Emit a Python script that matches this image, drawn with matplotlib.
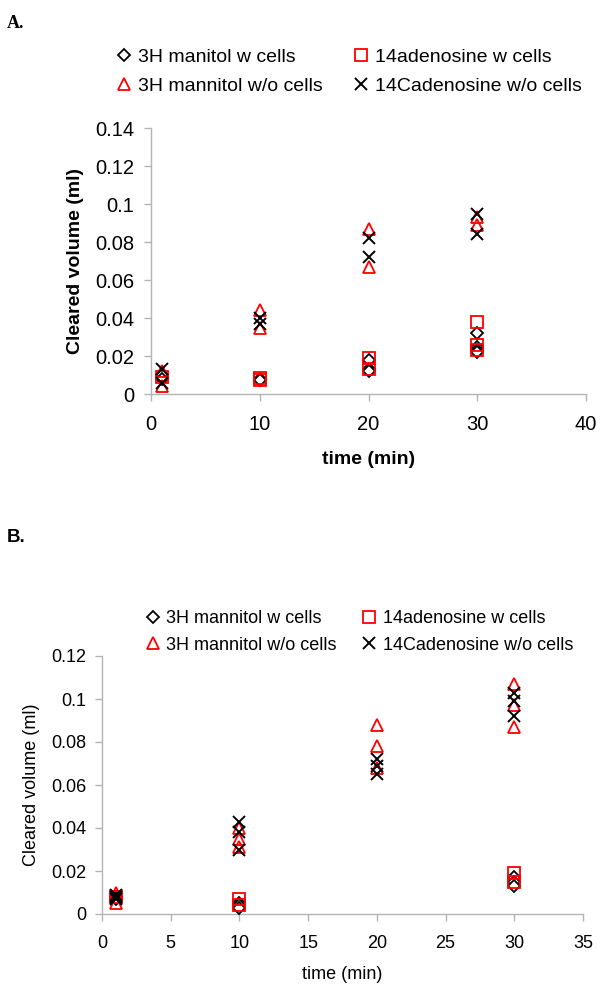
import matplotlib
matplotlib.use('Agg')
import matplotlib.pyplot as plt

plt.rcParams['font.family'] = ['Liberation Sans', 'DejaVu Sans']

labels = ['3H manitol w cells', '14adenosine w cells', '3H mannitol w/o cells', '14Cadenosine w/o cells']
labels_b = ['3H mannitol w cells', '14adenosine w cells', '3H mannitol w/o cells', '14Cadenosine w/o cells']

# panel A values (time, cleared volume)
a_man_w_t = [1, 1, 10, 10, 20, 20, 20, 30, 30, 30, 30]
a_man_w_v = [0.010, 0.008, 0.008, 0.0075, 0.018, 0.013, 0.012, 0.032, 0.025, 0.023, 0.022]
a_ade_w_t = [1, 10, 10, 20, 20, 30, 30, 30]
a_ade_w_v = [0.009, 0.0085, 0.0075, 0.019, 0.013, 0.038, 0.026, 0.023]
a_man_wo_t = [1, 1, 10, 10, 20, 20, 30, 30]
a_man_wo_v = [0.012, 0.004, 0.044, 0.035, 0.087, 0.067, 0.093, 0.089]
a_ade_wo_t = [1, 1, 10, 10, 20, 20, 30, 30]
a_ade_wo_v = [0.013, 0.006, 0.040, 0.037, 0.082, 0.072, 0.095, 0.084]

# panel B values
b_man_w_t = [1, 1, 10, 10, 10, 30, 30, 30]
b_man_w_v = [0.008, 0.007, 0.005, 0.004, 0.003, 0.017, 0.015, 0.013]
b_ade_w_t = [1, 10, 10, 30, 30]
b_ade_w_v = [0.008, 0.007, 0.004, 0.019, 0.015]
b_man_wo_t = [1, 1, 10, 10, 10, 20, 20, 20, 30, 30, 30]
b_man_wo_v = [0.010, 0.005, 0.040, 0.035, 0.031, 0.088, 0.078, 0.068, 0.107, 0.097, 0.087]
b_ade_wo_t = [1, 1, 1, 10, 10, 10, 20, 20, 20, 30, 30, 30]
b_ade_wo_v = [0.009, 0.008, 0.007, 0.043, 0.038, 0.030, 0.072, 0.069, 0.065, 0.103, 0.099, 0.092]

grey = '#b4b4b4'
red = '#ff0000'

fig = plt.figure(figsize=(6, 9.91), dpi=100)


def style_axes(ax, xmax, xstep, ymax, ystep, xlabel, ylabel, weight, fs, lfs, ypad, xlp):
    ax.set_xlim(0, xmax)
    ax.set_ylim(0, ymax)
    ax.set_xticks([i * xstep for i in range(int(round(xmax / xstep)) + 1)])
    n = int(round(ymax / ystep))
    yt = [round(i * ystep, 2) for i in range(n + 1)]
    ax.set_yticks(yt)
    ax.set_yticklabels(['0' if v == 0 else ('%g' % v) for v in yt])
    for s in ['top', 'right']:
        ax.spines[s].set_visible(False)
    for s in ['left', 'bottom']:
        ax.spines[s].set_color(grey)
        ax.spines[s].set_linewidth(1)
    ax.tick_params(direction='out', length=5, width=1, color=grey, labelsize=fs)
    ax.tick_params(axis='x', pad=10)
    ax.tick_params(axis='y', pad=ypad)
    ax.set_xlabel(xlabel, fontsize=lfs, fontweight=weight, labelpad=xlp)
    ax.set_ylabel(ylabel, fontsize=lfs, fontweight=weight, labelpad=8)
    for sp in ax.spines.values():
        sp.set_zorder(0)


def draw(ax, data, names, legend_anchor, lfs, colsp, lsp):
    (t1, v1), (t2, v2), (t3, v3), (t4, v4) = data
    h1, = ax.plot(t1, v1, linestyle='none', marker='D', markersize=6, mfc='white',
                  mec='black', mew=1.3, clip_on=False, zorder=3)
    h2, = ax.plot(t2, v2, linestyle='none', marker='s', markersize=8, mfc='none',
                  mec=red, mew=1.3, clip_on=False, zorder=4)
    h3, = ax.plot(t3, v3, linestyle='none', marker='^', markersize=9, mfc='none',
                  mec=red, mew=1.3, clip_on=False, zorder=5)
    h4, = ax.plot(t4, v4, linestyle='none', marker='x', markersize=9, color='black',
                  mew=1.4, clip_on=False, zorder=6)
    fig.legend([h1, h3, h2, h4], [names[0], names[2], names[1], names[3]], ncol=2,
               loc='upper left', bbox_to_anchor=legend_anchor, frameon=False,
               fontsize=lfs, handlelength=0.8, handletextpad=0.33, columnspacing=colsp,
               labelspacing=lsp, borderaxespad=0, borderpad=0)


axA = fig.add_axes([151 / 600, 1 - 394 / 991, 435 / 600, 266 / 991])
draw(axA, [(a_man_w_t, a_man_w_v), (a_ade_w_t, a_ade_w_v),
           (a_man_wo_t, a_man_wo_v), (a_ade_wo_t, a_ade_wo_v)], labels,
     (116 / 600, 1 - 48.5 / 991), 14, 1.57, 0.58)
style_axes(axA, 40, 10, 0.14, 0.02, 'time (min)', 'Cleared volume (ml)', 'bold', 14.5, 14, 7, 12)

axB = fig.add_axes([102 / 600, 1 - 914 / 991, 481 / 600, 258 / 991])
draw(axB, [(b_man_w_t, b_man_w_v), (b_ade_w_t, b_ade_w_v),
           (b_man_wo_t, b_man_wo_v), (b_ade_wo_t, b_ade_wo_v)], labels_b,
     (146 / 600, 1 - 610 / 991), 13, 1.4, 0.53)
style_axes(axB, 35, 5, 0.12, 0.02, 'time (min)', 'Cleared volume (ml)', 'normal', 13, 13, 6, 10)

fig.text(7 / 600, 1 - 23 / 991, 'A.', fontsize=13, fontweight='bold', family='Liberation Serif',
         va='center')
fig.text(7 / 600, 1 - 538 / 991, 'B.', fontsize=13.5, fontweight='bold', va='center')

fig.savefig('out.png', dpi=100)
